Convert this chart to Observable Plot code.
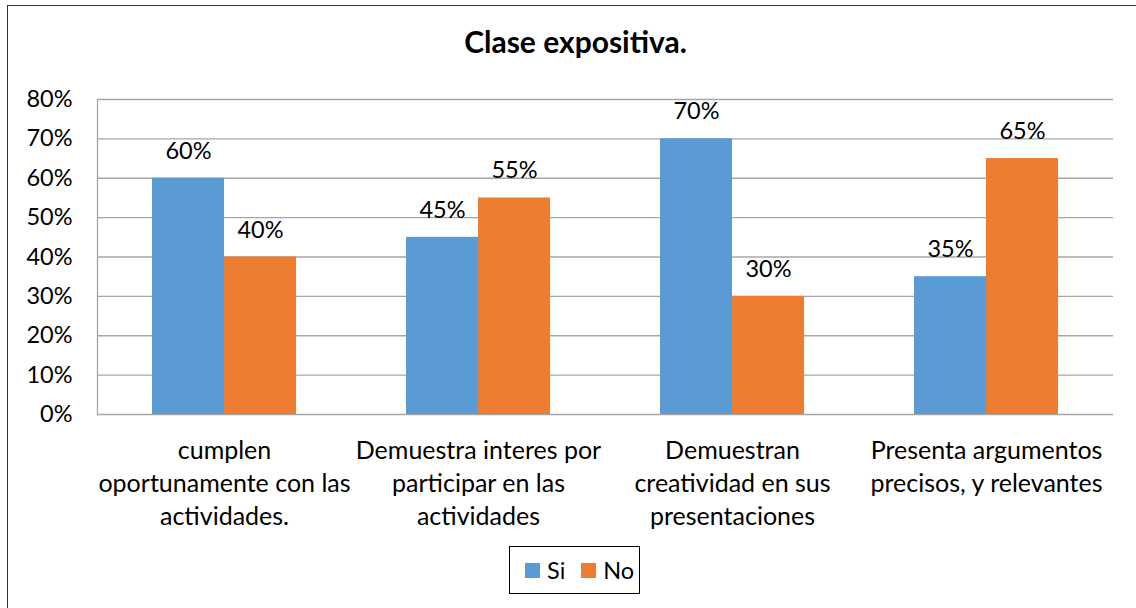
<!DOCTYPE html>
<html><head><meta charset="utf-8">
<script src="https://cdn.jsdelivr.net/npm/d3@7"></script>
<script src="https://cdn.jsdelivr.net/npm/@observablehq/plot@0.6"></script>
<style>
html,body{margin:0;padding:0;background:#fff;}
#wrap{position:relative;width:1136px;height:608px;overflow:hidden;font-family:Lato,sans-serif;color:#000;}
#frame{position:absolute;left:7px;top:5px;width:1200px;height:700px;border-left:1.5px solid #333;border-top:1.5px solid #333;}
#title{position:absolute;left:0;width:1151px;top:26px;text-align:center;font-weight:bold;font-size:30px;line-height:30px;}
#chart{position:absolute;left:0;top:80px;}
#legend{position:absolute;left:509px;top:546px;width:131px;height:48px;border:1.5px solid #000;display:flex;align-items:center;justify-content:flex-start;padding-left:15px;font-size:23.5px;box-sizing:border-box;}
.item{display:flex;align-items:center;margin-right:16px;}
.sw{width:15px;height:15px;margin-right:7px;}
</style></head>
<body>
<div id="wrap">
  <div id="frame"></div>
  <div id="title"></div>
  <div id="chart"></div>
  <div id="legend"></div>
</div>
<script>
const title = "Clase expositiva.";
const categories = [
  "cumplen oportunamente con las actividades.",
  "Demuestra interes por participar en las actividades",
  "Demuestran creatividad en sus presentaciones",
  "Presenta argumentos precisos, y relevantes"
];
const categoryLabels = [
  "cumplen\noportunamente con las\nactividades.",
  "Demuestra interes por\nparticipar en las\nactividades",
  "Demuestran\ncreatividad en sus\npresentaciones",
  "Presenta argumentos\nprecisos, y relevantes"
];
const series = ["Si", "No"];
const siValues = [0.60, 0.45, 0.70, 0.35];
const noValues = [0.40, 0.55, 0.30, 0.65];
const yTicks = [0, 0.1, 0.2, 0.3, 0.4, 0.5, 0.6, 0.7, 0.8];
const seriesColors = ["#5B9BD5", "#ED7D31"];

const data = categories.flatMap((c, i) => [
  {cat: c, series: series[0], value: siValues[i]},
  {cat: c, series: series[1], value: noValues[i]}
]);
const pct = d3.format(".0%");

document.getElementById("title").textContent = title;

const chart = Plot.plot({
  width: 1136, height: 460,
  marginLeft: 96, marginRight: 23, marginTop: 19, marginBottom: 126,
  style: {fontFamily: "Lato, sans-serif", fontSize: "23.5px", color: "#000", background: "transparent", overflow: "visible"},
  fx: {domain: categories, padding: 0, axis: null, label: null},
  x: {domain: series, paddingInner: 0, paddingOuter: 0.74, axis: null},
  y: {domain: [0, 0.8], ticks: yTicks, tickFormat: pct, tickSize: 0, tickPadding: 25, label: null},
  color: {domain: series, range: seriesColors},
  marks: [
    Plot.ruleY(yTicks, {stroke: "#a6a6a6", strokeWidth: 1.3}),
    Plot.frame({anchor: "left", facetAnchor: "left", stroke: "#a6a6a6", strokeWidth: 1.3}),
    Plot.barY(data, {fx: "cat", x: "series", y: "value", fill: "series"}),
    Plot.text(data, {fx: "cat", x: "series", y: "value", text: d => pct(d.value), dy: -27, fill: "#000"}),
    Plot.text(categories, {fx: d => d, text: d => categoryLabels[categories.indexOf(d)], frameAnchor: "bottom", lineAnchor: "top", dy: 21, lineHeight: 1.32, fontSize: 25, fill: "#000"})
  ]
});
document.getElementById("chart").appendChild(chart);

const legend = document.getElementById("legend");
series.forEach((s, i) => {
  const item = document.createElement("div");
  item.className = "item";
  const sw = document.createElement("div");
  sw.className = "sw";
  sw.style.background = seriesColors[i];
  const t = document.createElement("span");
  t.textContent = s;
  item.appendChild(sw); item.appendChild(t);
  legend.appendChild(item);
});
</script>
</body></html>
